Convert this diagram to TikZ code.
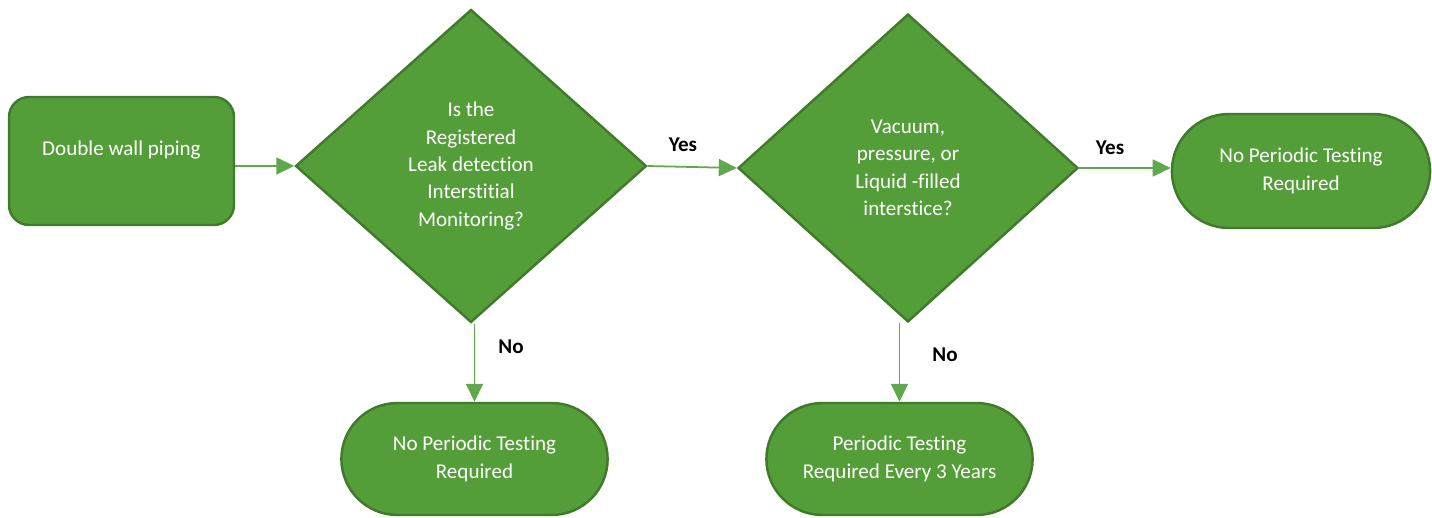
\documentclass[tikz,border=0pt]{standalone}
\usepackage{fontspec}
\setmainfont{Carlito}[Ligatures=NoCommon]
\usetikzlibrary{shapes.geometric,shapes.misc,arrows.meta}
\definecolor{gruen}{RGB}{84,158,57}
\definecolor{gruenrand}{RGB}{65,122,44}
\definecolor{pfeil}{RGB}{96,168,76}
\tikzset{
	feld/.style={draw=gruenrand, fill=gruen, line width=1.4pt, text=white,
		align=center, font=\fontsize{12}{15.6}\selectfont},
	kasten/.style={feld, rectangle, rounded corners=0.4cm},
	raute/.style={feld, diamond, inner sep=0pt},
	ende/.style={feld, rounded rectangle},
	pfeil/.style={draw=pfeil, line width=1pt,
		-{Triangle[length=0.36cm, width=0.34cm]}},
	antwort/.style={font=\fontsize{12}{14}\selectfont\bfseries}
}
\begin{document}
\begin{tikzpicture}[x=0.02cm, y=-0.02cm]
	\useasboundingbox (0,0) rectangle (1432,517);
	% Start
	\node[kasten, minimum width=4.5cm, minimum height=2.56cm, text depth=0.5cm]
		(rohr) at (121.5,161) {Double wall piping};
	% Abfragen
	\node[raute, minimum width=7.02cm, minimum height=6.26cm] (frage1)
		at (471,166) {Is the\\Registered\\Leak detection\\Interstitial\\Monitoring?};
	\node[raute, minimum width=6.8cm, minimum height=6.16cm] (frage2)
		at (908,168) {Vacuum,\\pressure, or\\Liquid -filled\\interstice?};
	% Ergebnisse
	\node[ende, minimum width=5.4cm, minimum height=2.28cm] (ende1)
		at (1301,171) {No Periodic Testing\\Required};
	\node[ende, minimum width=5.56cm, minimum height=2.24cm] (ende2)
		at (474.5,459) {No Periodic Testing\\Required};
	\node[ende, minimum width=5.56cm, minimum height=2.24cm] (ende3)
		at (899.5,459) {Periodic Testing\\Required Every 3 Years};
	% Verbindungen
	\draw[pfeil] (rohr.east |- frage1.west) -- (frage1.west);
	\draw[pfeil] (frage1.east) -- (frage2.west);
	\draw[pfeil] (frage2.east) -- (frage2.east -| ende1.west);
	\draw[pfeil] (ende2.north |- frage1.south) -- (ende2.north);
	\draw[pfeil] (ende3.north |- frage2.south) -- (ende3.north);
	% Beschriftungen
	\node[antwort] (ja1) at (683,145) {Yes};
	\node[antwort] (ja2) at (1110,148) {Yes};
	\node[antwort] (nein1) at (511,347) {No};
	\node[antwort] (nein2) at (945,355) {No};
\end{tikzpicture}
\end{document}
